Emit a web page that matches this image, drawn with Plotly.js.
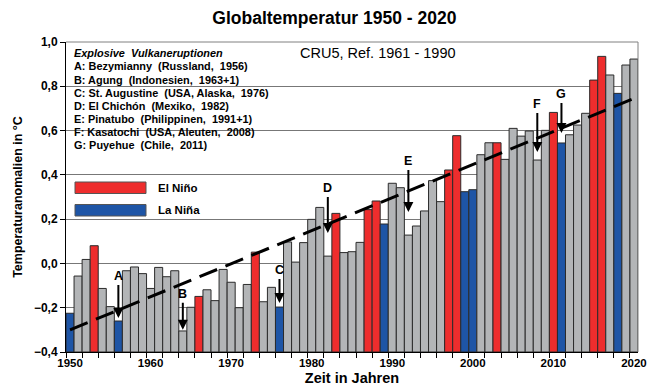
<!DOCTYPE html>
<html>
<head>
<meta charset="utf-8">
<script src="https://cdn.plot.ly/plotly-3.0.1.min.js"></script>
<style>html,body{margin:0;padding:0;background:#fff;}#chart{width:648px;height:391px;}</style>
</head>
<body>
<div id="chart"></div>
<script>
const years = [1950,1951,1952,1953,1954,1955,1956,1957,1958,1959,
  1960,1961,1962,1963,1964,1965,1966,1967,1968,1969,
  1970,1971,1972,1973,1974,1975,1976,1977,1978,1979,
  1980,1981,1982,1983,1984,1985,1986,1987,1988,1989,
  1990,1991,1992,1993,1994,1995,1996,1997,1998,1999,
  2000,2001,2002,2003,2004,2005,2006,2007,2008,2009,
  2010,2011,2012,2013,2014,2015,2016,2017,2018,2019,2020];
const anomalies = [-0.225,-0.057,0.018,0.080,-0.113,-0.195,-0.260,-0.033,-0.016,-0.046,
  -0.113,-0.018,-0.060,-0.033,-0.305,-0.198,-0.149,-0.119,-0.168,-0.027,
  -0.085,-0.200,-0.095,0.051,-0.173,-0.108,-0.197,0.097,0.006,0.094,
  0.199,0.253,0.033,0.226,0.049,0.053,0.095,0.243,0.282,0.178,
  0.362,0.342,0.128,0.169,0.237,0.374,0.279,0.422,0.577,0.324,
  0.333,0.491,0.545,0.545,0.470,0.610,0.575,0.598,0.467,0.601,
  0.682,0.544,0.581,0.625,0.678,0.828,0.935,0.851,0.768,0.896,0.923];
const elNinoYears = [1953,1966,1973,1983,1987,1988,1997,1998,2003,2010,2015,2016];
const laNinaYears = [1950,1956,1976,1989,1999,2000,2011,2018];
const trendYears = [1950, 2020];
const trendValues = [-0.30, 0.745];
const volcanoYears = [1956, 1964, 1976, 1982, 1992, 2008, 2011];
const volcanoLetters = ['A','B','C','D','E','F','G'];
const arrowTips = [-0.247, -0.300, -0.179, 0.137, 0.232, 0.503, 0.589];
const arrowLengths = [33, 27, 24, 36, 42, 39, 30];
const volcanoHeader = 'Explosive  Vulkaneruptionen';
const volcanoLines = [
  'A: Bezymianny  (Russland,  1956)',
  'B: Agung  (Indonesien,  1963+1)',
  'C: St. Augustine  (USA, Alaska,  1976)',
  'D: El Chichón  (Mexiko,  1982)',
  'E: Pinatubo  (Philippinen,  1991+1)',
  'F: Kasatochi  (USA, Aleuten,  2008)',
  'G: Puyehue  (Chile,  2011)'
];
const yTicks = [-0.4,-0.2,0.0,0.2,0.4,0.6,0.8,1.0];
const xTicks = [1950,1960,1970,1980,1990,2000,2010,2020];

const BASE = -0.4;
const RED = '#EE2D2D', BLUE = '#1E55A6', GRAY = '#B3B5B7';
const FONT = 'Liberation Sans, Arial, Helvetica, sans-serif';

const colors = years.map(y => elNinoYears.includes(y) ? RED : (laNinaYears.includes(y) ? BLUE : GRAY));

const bars = {
  type: 'bar', x: years, y: anomalies.map(v => v - BASE), base: BASE,
  marker: {color: colors, line: {color: '#2b2b2b', width: 1}},
  hoverinfo: 'skip', showlegend: false
};
const trend = {
  type: 'scatter', mode: 'lines', x: trendYears, y: trendValues,
  line: {color: '#000', width: 3, dash: '19px,9px'},
  hoverinfo: 'skip', showlegend: false
};

const minorTicks = years.filter((y, i) => i % 2 === 0).map(y => y - 0.5);

// pixel helpers for the fixed decorative layout (plot area 66..638 x 42..352)
const px = v => (v - 66) / 572;
const py = v => (352 - v) / 310;

const annotations = [];
volcanoYears.forEach((yr, i) => {
  annotations.push({
    x: yr, y: arrowTips[i], xref: 'x', yref: 'y',
    text: volcanoLetters[i], showarrow: true, ax: 0, ay: -arrowLengths[i],
    arrowhead: 2, arrowsize: 1, arrowwidth: 2, arrowcolor: '#000',
    yanchor: 'bottom', font: {family: FONT, size: 12.5, color: '#000', weight: 700}
  });
});
[ '<i>' + volcanoHeader + '</i>' ].concat(volcanoLines).forEach((t, i) => {
  annotations.push({
    xref: 'paper', yref: 'paper', x: px(72), y: py(53.3 + 13.1 * i), xanchor: 'left', yanchor: 'middle',
    showarrow: false, text: t, font: {family: FONT, size: 10.9, color: '#000', weight: 700}
  });
});
annotations.push({
  xref: 'paper', yref: 'paper', x: px(298), y: py(53), xanchor: 'left', yanchor: 'middle',
  showarrow: false, text: 'CRU5, Ref. 1961 - 1990',
  font: {family: FONT, size: 14.5, color: '#000'}
});
annotations.push({
  xref: 'paper', yref: 'paper', x: px(156), y: py(188), xanchor: 'left', yanchor: 'middle',
  showarrow: false, text: 'El Niño', font: {family: FONT, size: 11.5, color: '#000', weight: 700}
});
annotations.push({
  xref: 'paper', yref: 'paper', x: px(156), y: py(210), xanchor: 'left', yanchor: 'middle',
  showarrow: false, text: 'La Niña', font: {family: FONT, size: 11.5, color: '#000', weight: 700}
});

const shapes = [
  {type: 'rect', xref: 'paper', yref: 'paper', x0: 0.002, x1: px(283), y0: py(156), y1: 0.997,
   fillcolor: '#fff', line: {width: 0}, layer: 'between'},
  {type: 'rect', xref: 'paper', yref: 'paper', x0: px(75), x1: px(146), y0: py(193.5), y1: py(182),
   fillcolor: RED, line: {color: '#555', width: 1}, layer: 'above'},
  {type: 'rect', xref: 'paper', yref: 'paper', x0: px(75), x1: px(146), y0: py(216), y1: py(204.5),
   fillcolor: BLUE, line: {color: '#555', width: 1}, layer: 'above'},
  {type: 'line', xref: 'paper', yref: 'paper', x0: 0, x1: 1, y0: 1, y1: 1,
   line: {color: '#808080', width: 1}, layer: 'above'},
  {type: 'line', xref: 'paper', yref: 'paper', x0: 1, x1: 1, y0: 0, y1: 1,
   line: {color: '#808080', width: 1}, layer: 'above'}
];

const layout = {
  width: 648, height: 391,
  margin: {l: 66, r: 10, t: 42, b: 39},
  paper_bgcolor: '#fff', plot_bgcolor: '#fff',
  separators: ',.',
  bargap: 0,
  showlegend: false,
  font: {family: FONT, color: '#000'},
  title: {text: 'Globaltemperatur 1950 - 2020', x: 0.516, xanchor: 'center', xref: 'container',
          y: 0.955, yanchor: 'middle',
          font: {family: FONT, size: 17.5, color: '#000', weight: 700}},
  xaxis: {
    range: [1949.5, 2020.5], tickmode: 'array', tickvals: xTicks, ticktext: xTicks.map(String),
    ticks: '', showgrid: false, zeroline: false, showline: true, linecolor: '#000', linewidth: 1,
    tickfont: {family: FONT, size: 11.5, color: '#000', weight: 700},
    minor: {tickmode: 'array', tickvals: minorTicks, ticks: 'outside', ticklen: 5, tickcolor: '#000', showgrid: false},
    title: {text: 'Zeit in Jahren', font: {family: FONT, size: 14.5, color: '#000', weight: 700}, standoff: 5},
    fixedrange: true
  },
  yaxis: {
    range: [-0.4, 1.0], tickmode: 'array', tickvals: yTicks, tickformat: '.1f',
    ticks: 'outside', ticklen: 5, tickcolor: '#000',
    showgrid: true, gridcolor: '#777', gridwidth: 1, zeroline: false,
    showline: true, linecolor: '#000', linewidth: 1,
    tickfont: {family: FONT, size: 12, color: '#000', weight: 700},
    title: {text: 'Temperaturanomalien in °C', font: {family: FONT, size: 12.5, color: '#000', weight: 700}, standoff: 8},
    fixedrange: true
  },
  annotations: annotations,
  shapes: shapes
};

Plotly.newPlot('chart', [bars, trend], layout, {displayModeBar: false, staticPlot: true});
</script>
</body>
</html>
